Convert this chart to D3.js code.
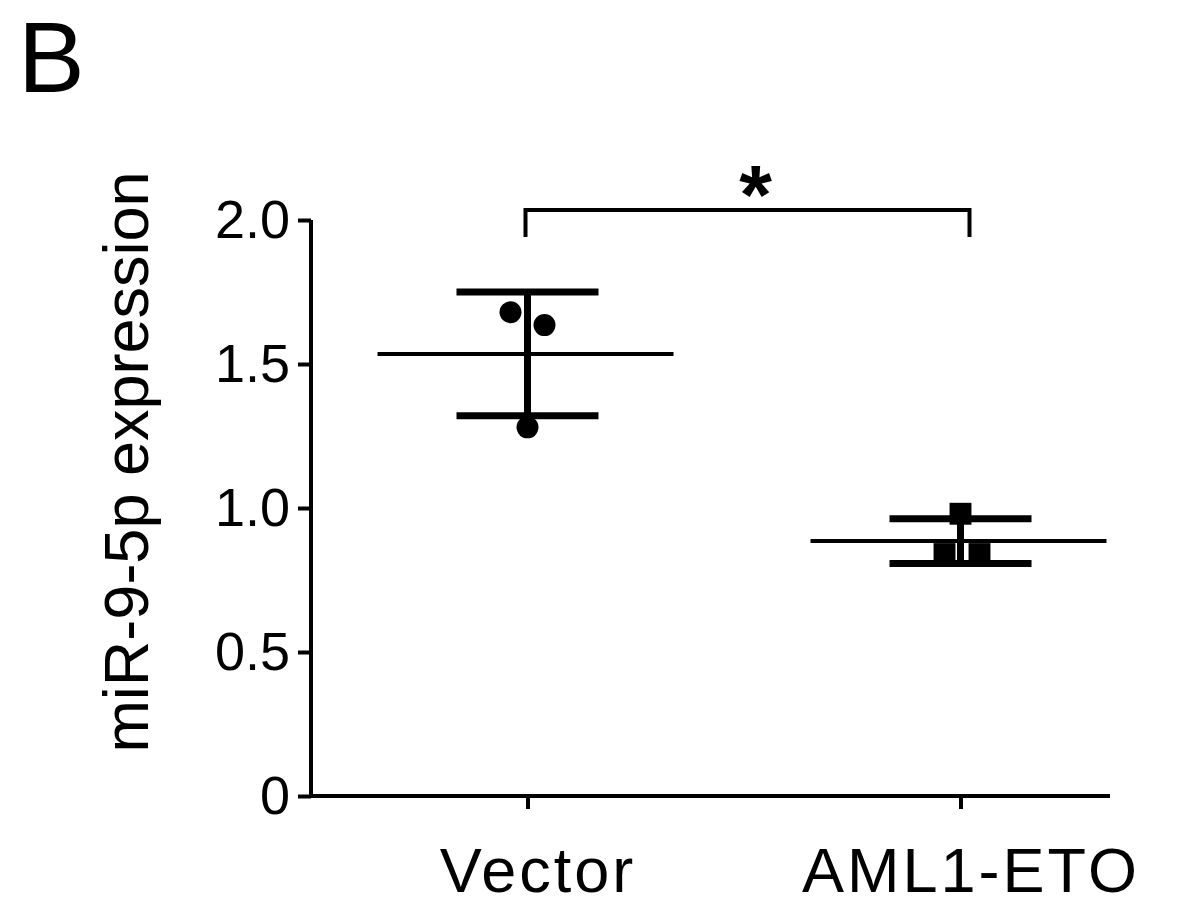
<!DOCTYPE html>
<html>
<head>
<meta charset="utf-8">
<script src="https://cdn.jsdelivr.net/npm/d3@7"></script>
<style>
  body { margin: 0; background: #fff; }
  svg { display: block; font-family: "Liberation Sans", Arial, sans-serif; }
</style>
</head>
<body>
<svg id="chart" width="1178" height="908"></svg>
<script>
// groups and replicate values
var groups = ["Vector", "AML1-ETO"];
var vectorPoints = [1.68, 1.635, 1.28];
var amlPoints = [0.98, 0.84, 0.84];
var means = [1.535, 0.885];
var sds = [0.215, 0.078];
var yTicks = [0, 0.5, 1.0, 1.5, 2.0];
var yTickLabels = ["0", "0.5", "1.0", "1.5", "2.0"];

var svg = d3.select("#chart");

var x = d3.scalePoint().domain(groups).range([311, 1177]).padding(0.5);
var y = d3.scaleLinear().domain([0, 2]).range([796, 220]);

// panel letter
svg.append("text")
  .attr("x", 18).attr("y", 92)
  .style("font-size", "100px")
  .text("B");

// y axis
var yAxis = svg.append("g").attr("transform", "translate(311,0)")
  .call(d3.axisLeft(y).tickValues(yTicks).tickSize(13).tickPadding(8)
    .tickFormat(function(d, i) { return yTickLabels[i]; }));
yAxis.select(".domain").attr("d", "M0," + y(2) + "V" + y(0)).style("stroke-width", 4);
yAxis.selectAll(".tick line").style("stroke-width", 4);
yAxis.selectAll("text").style("font-size", "54px").style("font-family", "Liberation Sans, Arial, sans-serif");

// x axis
var xAxis = svg.append("g").attr("transform", "translate(0,796)")
  .call(d3.axisBottom(x).tickSize(13).tickPadding(38));
xAxis.select(".domain").attr("d", "M309,0H1110").style("stroke-width", 4);
xAxis.selectAll(".tick line").style("stroke-width", 4);
xAxis.selectAll("text")
  .style("font-size", "63px").style("letter-spacing", "3px")
  .attr("dx", 10)
  .style("font-family", "Liberation Sans, Arial, sans-serif");

// y axis title
svg.append("text")
  .attr("transform", "translate(148,462) rotate(-90)")
  .attr("text-anchor", "middle")
  .style("font-size", "63px")
  .text("miR-9-5p expression");

var data = [
  { group: groups[0], pts: vectorPoints, mean: means[0], sd: sds[0], shape: d3.symbolCircle },
  { group: groups[1], pts: amlPoints, mean: means[1], sd: sds[1], shape: d3.symbolSquare }
];
var jitter = [[-17, 17, 0], [0, -16, 19]];

data.forEach(function(g, gi) {
  var cx = x(g.group);
  var sym = d3.symbol().type(g.shape).size(gi === 0 ? 380 : 480);
  svg.selectAll(null).data(g.pts).enter().append("path")
    .attr("d", sym)
    .attr("transform", function(d, i) { return "translate(" + (cx + jitter[gi][i]) + "," + y(d) + ")"; })
    .style("fill", "#000");

  // mean line
  svg.append("line")
    .attr("x1", cx - 150).attr("x2", cx + 146)
    .attr("y1", y(g.mean)).attr("y2", y(g.mean))
    .style("stroke", "#000").style("stroke-width", 4);
  // sd stem and caps
  svg.append("line")
    .attr("x1", cx).attr("x2", cx)
    .attr("y1", y(g.mean + g.sd)).attr("y2", y(g.mean - g.sd))
    .style("stroke", "#000").style("stroke-width", 7);
  [g.mean + g.sd, g.mean - g.sd].forEach(function(v) {
    svg.append("line")
      .attr("x1", cx - 71).attr("x2", cx + 71)
      .attr("y1", y(v)).attr("y2", y(v))
      .style("stroke", "#000").style("stroke-width", 7);
  });
});

// significance bracket
var bx1 = x(groups[0]) - 2, bx2 = x(groups[1]) + 9;
svg.append("path")
  .attr("d", "M" + bx1 + ",237V210H" + bx2 + "V237")
  .style("fill", "none").style("stroke", "#000").style("stroke-width", 4);
svg.append("text")
  .attr("x", (bx1 + bx2) / 2 + 8).attr("y", 224)
  .attr("text-anchor", "middle")
  .style("font-size", "84px").style("font-weight", "bold")
  .text("*");
</script>
</body>
</html>
